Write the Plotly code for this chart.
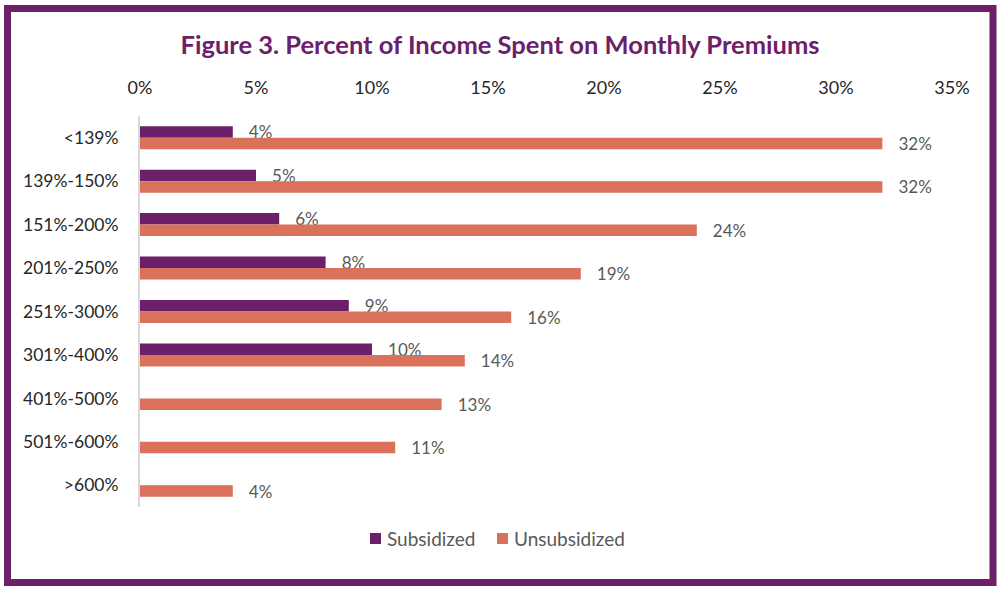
import plotly.graph_objects as go

categories = ["<139%", "139%-150%", "151%-200%", "201%-250%", "251%-300%",
              "301%-400%", "401%-500%", "501%-600%", ">600%"]
subsidized = [4, 5, 6, 8, 9, 10, None, None, None]
unsubsidized = [32, 32, 24, 19, 16, 14, 13, 11, 4]
x_ticks = [0, 5, 10, 15, 20, 25, 30, 35]
series_names = ["Subsidized", "Unsubsidized"]

PURPLE = "#6B2069"
ORANGE = "#D9715B"
FONT = "Lato, Calibri, 'Open Sans', sans-serif"
NB = "\u00a0\u00a0\u00a0"


def labels(vals):
    return [None if v is None else f"{NB}{v}%" for v in vals]


fig = go.Figure()
for name, vals, col in [(series_names[0], subsidized, PURPLE),
                        (series_names[1], unsubsidized, ORANGE)]:
    fig.add_trace(go.Bar(
        y=categories, x=vals, orientation="h", name=name,
        marker=dict(color=col, line=dict(width=0)),
        text=labels(vals), texttemplate="%{text}", textposition="outside",
        textfont=dict(family=FONT, size=17, color="#595959"),
        cliponaxis=False, constraintext="none", showlegend=False,
    ))

W, H = 1000, 591
L, R, T, B = 140, 48, 116, 84
pw, ph = W - L - R, H - T - B


def px_x(x):
    return (x - L) / pw


def px_y(y):
    return (H - B - y) / ph


fig.update_layout(
    width=W, height=H,
    margin=dict(l=L, r=R, t=T, b=B),
    paper_bgcolor="white", plot_bgcolor="white",
    barmode="group", bargap=0.47, bargroupgap=0,
    font=dict(family=FONT, size=17, color="#262626"),
    title=dict(
        text="<b>Figure 3. Percent of Income Spent on Monthly Premiums</b>",
        x=0.5, xanchor="center", xref="container", y=1 - 45 / H, yanchor="middle",
        font=dict(family=FONT, size=25.5, color=PURPLE),
    ),
    xaxis=dict(
        side="top", range=[0, 35], tickvals=x_ticks,
        ticktext=[f"{v}%" for v in x_ticks],
        showgrid=False, zeroline=False, showline=False, ticks="",
        ticklabelstandoff=17,
        tickfont=dict(family=FONT, size=18, color="#262626"),
        fixedrange=True,
    ),
    yaxis=dict(
        autorange="reversed", showgrid=False, zeroline=False,
        showline=True, linecolor="#D9D9D9", linewidth=2, ticks="",
        ticklabelstandoff=16,
        tickfont=dict(family=FONT, size=17.5, color="#262626"),
        fixedrange=True,
    ),
    showlegend=False,
)

# custom legend (square swatch + text), placed like the original
legend_items = [(series_names[0], PURPLE, 370), (series_names[1], ORANGE, 497)]
for name, col, x0 in legend_items:
    fig.add_shape(type="rect", xref="paper", yref="paper",
                  x0=px_x(x0), x1=px_x(x0 + 11), y0=px_y(544), y1=px_y(533),
                  fillcolor=col, line=dict(width=0))
    fig.add_annotation(text=name, xref="paper", yref="paper",
                       x=px_x(x0 + 15), y=px_y(538), xanchor="left",
                       yanchor="middle", showarrow=False,
                       font=dict(family=FONT, size=19, color="#595959"))

fig.add_shape(
    type="rect", xref="paper", yref="paper",
    x0=px_x(7.5), x1=px_x(993), y0=px_y(582.5), y1=px_y(8.5),
    line=dict(color=PURPLE, width=7), fillcolor="rgba(0,0,0,0)", layer="above",
)

fig.write_html(
    "out.html",
    config={"displayModeBar": False},
    post_script="document.body.style.margin='0';document.body.style.padding='0';",
)
